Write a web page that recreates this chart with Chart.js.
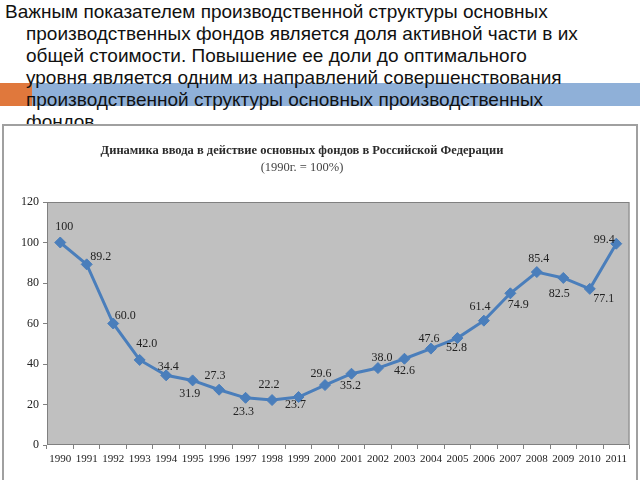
<!DOCTYPE html>
<html>
<head>
<meta charset="utf-8">
<script src="https://cdn.jsdelivr.net/npm/chart.js@4"></script>
<style>
  html, body { margin: 0; padding: 0; background: #fff; width: 640px; height: 480px; overflow: hidden; }
  .bar-orange { position: absolute; left: 0; top: 83px; width: 32px; height: 23px; background: #e0783c; }
  .bar-blue { position: absolute; left: 32px; top: 83px; width: 608px; height: 23px; background: #8fb0d8; }
  .text { position: absolute; left: 5px; top: 1px; font-family: "Liberation Sans", Arial, sans-serif; font-size: 19px; line-height: 22px; color: #111; white-space: nowrap; }
  .text .ind { padding-left: 21px; }
  .frame { position: absolute; left: 2px; top: 124px; width: 632px; height: 360px; border: 2px solid #a0a0a0; background: #fff; }
  canvas { position: absolute; left: 0; top: 0; }
</style>
</head>
<body>
<div class="bar-orange"></div>
<div class="bar-blue"></div>
<div class="text">
  <div>Важным показателем производственной структуры основных</div>
  <div class="ind">производственных фондов является доля активной части в их</div>
  <div class="ind">общей стоимости. Повышение ее доли до оптимального</div>
  <div class="ind">уровня является одним из направлений совершенствования</div>
  <div class="ind">производственной структуры основных производственных</div>
  <div class="ind">фондов.</div>
</div>
<div class="frame">
  <canvas id="chart" width="632" height="356"></canvas>
</div>
<script>
const years = ['1990', '1991', '1992', '1993', '1994', '1995', '1996', '1997', '1998', '1999', '2000',
  '2001', '2002', '2003', '2004', '2005', '2006', '2007', '2008', '2009', '2010', '2011'];
const inputIndex = [100, 89.2, 60.0, 42.0, 34.4, 31.9, 27.3, 23.3, 22.2, 23.7, 29.6,
  35.2, 38.0, 42.6, 47.6, 52.8, 61.4, 74.9, 85.4, 82.5, 77.1, 99.4];
const valueLabels = ['100', '89.2', '60.0', '42.0', '34.4', '31.9', '27.3', '23.3', '22.2', '23.7', '29.6',
  '35.2', '38.0', '42.6', '47.6', '52.8', '61.4', '74.9', '85.4', '82.5', '77.1', '99.4'];
const yTicks = [0, 20, 40, 60, 80, 100, 120];
const titleLines = ['Динамика ввода в действие основных фондов в Российской Федерации', '(1990г. = 100%)'];

// where each value label sits relative to its point (dx, dy)
const labelShift = [[4, -16], [14, -8], [12, -8], [7, -16], [2, -8], [-3, 13], [-4, -14], [-2, 14],
  [-3, -15], [-3, 8], [-4, -11], [-1, 12], [4, -10], [0, 12], [-2, -10], [-1, 10], [-4, -14],
  [8, 12], [2, -13], [-4, 16], [14, 10], [-12, -4]];

const serif = '"Liberation Serif", "Times New Roman", serif';

const plotBg = {
  id: 'plotBg',
  beforeDraw(chart) {
    const { ctx, chartArea: a } = chart;
    ctx.save();
    ctx.fillStyle = '#c0c0c0';
    ctx.fillRect(a.left, a.top, a.right - a.left, a.bottom - a.top);
    ctx.strokeStyle = '#808080';
    ctx.lineWidth = 1;
    ctx.strokeRect(a.left + 0.5, a.top + 0.5, a.right - a.left - 1, a.bottom - a.top - 1);
    // heading, centred a bit left of the plot like in the source picture
    ctx.fillStyle = '#2a2a2a';
    ctx.textAlign = 'center';
    ctx.textBaseline = 'middle';
    ctx.font = 'bold 12.5px ' + serif;
    ctx.fillText(titleLines[0], 298, 25);
    ctx.fillStyle = '#444';
    ctx.font = '12.5px ' + serif;
    ctx.fillText(titleLines[1], 298, 42);
    ctx.restore();
  }
};

const pointLabels = {
  id: 'pointLabels',
  afterDatasetsDraw(chart) {
    const { ctx } = chart;
    const meta = chart.getDatasetMeta(0);
    ctx.save();
    ctx.font = '12px ' + serif;
    ctx.fillStyle = '#222';
    ctx.textAlign = 'center';
    ctx.textBaseline = 'middle';
    meta.data.forEach((pt, i) => {
      const s = labelShift[i];
      ctx.fillText(valueLabels[i], pt.x + s[0], pt.y + s[1]);
    });
    ctx.restore();
  }
};

const ctx = document.getElementById('chart').getContext('2d');
const chart = new Chart(ctx, {
  type: 'line',
  data: {
    labels: years,
    datasets: [{
      data: inputIndex,
      borderColor: '#4a7ebb',
      backgroundColor: '#4a7ebb',
      borderWidth: 3,
      pointStyle: 'rectRot',
      pointRadius: 5.5,
      pointBorderWidth: 1,
      tension: 0
    }]
  },
  options: {
    responsive: false,
    animation: false,
    layout: { padding: { top: 76, right: 1, bottom: 9, left: 0 } },
    plugins: {
      legend: { display: false },
      tooltip: { enabled: false },
      title: { display: false }
    },
    scales: {
      x: {
        offset: true,
        grid: { display: true, drawOnChartArea: false, offset: true, tickLength: 4, color: '#808080' },
        border: { display: false },
        ticks: {
          color: '#222', padding: 4, maxRotation: 0, autoSkip: false,
          font: { family: serif, size: 11 }
        },
        afterFit(scale) { scale.height = 28; }
      },
      y: {
        min: 0,
        max: 120,
        afterBuildTicks(scale) { scale.ticks = yTicks.map(v => ({ value: v })); },
        grid: { display: true, drawOnChartArea: false, tickLength: 4, color: '#808080' },
        border: { display: false },
        ticks: {
          color: '#222', padding: 4,
          font: { family: serif, size: 12 }
        },
        afterFit(scale) { scale.width = 43; }
      }
    }
  },
  plugins: [plotBg, pointLabels]
});
</script>
</body>
</html>
